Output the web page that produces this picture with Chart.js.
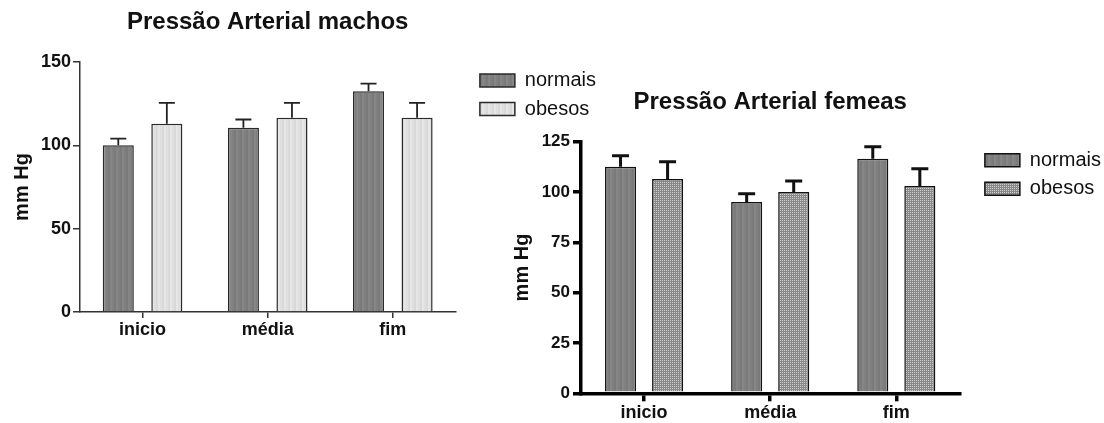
<!DOCTYPE html>
<html><head><meta charset="utf-8">
<script src="https://cdn.jsdelivr.net/npm/chart.js@4.4.1/dist/chart.umd.min.js"></script>
<style>
html,body{margin:0;padding:0;background:#fff;width:1104px;height:423px;overflow:hidden}
.wrap{position:absolute;top:0;height:423px}
#w1{left:0;width:600px}
#w2{left:500px;width:604px}
</style></head><body>
<div class="wrap" id="w1"><canvas id="c1"></canvas></div>
<div class="wrap" id="w2"><canvas id="c2"></canvas></div>
<script>
// ---- data ----
const categories = ['inicio', 'média', 'fim'];
const seriesNames = ['normais', 'obesos'];
const machosNormais = [100, 110.5, 132.5];
const machosNormaisErr = [4, 5, 4.5];
const machosObesos = [113, 116.5, 116.5];
const machosObesosErr = [12.5, 9, 9];
const femeasNormais = [112.5, 95, 116.5];
const femeasNormaisErr = [5.5, 4.2, 6];
const femeasObesos = [106.5, 100, 103];
const femeasObesosErr = [8.5, 5.5, 8.5];
const machosTicks = [0, 50, 100, 150];
const femeasTicks = [0, 25, 50, 75, 100, 125];
const titleMachos = 'Pressão Arterial machos';
const titleFemeas = 'Pressão Arterial femeas';
const yTitle = 'mm Hg';

const FF = "'Liberation Sans', Arial, Helvetica, sans-serif";

function makePattern(w, h, draw) {
  const c = document.createElement('canvas');
  c.width = w; c.height = h;
  const g = c.getContext('2d');
  draw(g);
  return g.createPattern(c, 'repeat');
}
function stripes(cols) {
  return makePattern(cols.length, 4, g => {
    cols.forEach((col, i) => { g.fillStyle = col; g.fillRect(i, 0, 1, 4); });
  });
}
const stripeDark = stripes(['#7a7a7a','#7a7a7a','#868686','#868686','#7f7f7f','#808080']);
const stripeLight = stripes(['#d9d9d9','#d9d9d9','#e6e6e6','#e6e6e6','#dedede','#e0e0e0']);
const meshPattern = makePattern(2, 2, g => {
  g.fillStyle = '#888888'; g.fillRect(0, 0, 2, 2);
  g.fillStyle = '#cfcfcf'; g.fillRect(0, 0, 1, 1);
});

function errorBarPlugin(errs, lw, half, color) {
  return {
    id: 'errorBars',
    afterDatasetsDraw(chart) {
      const ctx = chart.ctx;
      const y = chart.scales.y;
      ctx.save();
      ctx.strokeStyle = color;
      ctx.lineWidth = lw;
      chart.data.datasets.forEach((ds, di) => {
        const meta = chart.getDatasetMeta(di);
        meta.data.forEach((bar, i) => {
          const top = y.getPixelForValue(ds.data[i] + errs[di][i]);
          ctx.beginPath();
          ctx.moveTo(bar.x, bar.y);
          ctx.lineTo(bar.x, top);
          ctx.moveTo(bar.x - half, top);
          ctx.lineTo(bar.x + half, top);
          ctx.stroke();
        });
      });
      ctx.restore();
    }
  };
}
function shiftLegend(dx) {
  return {
    id: 'shiftLegend',
    afterLayout(chart) {
      const l = chart.legend;
      if (l) { l.left += dx; l.right += dx; }
    }
  };
}

function makeChart(el, o) {
  return new Chart(el, {
    type: 'bar',
    data: {
      labels: categories,
      datasets: [
        { label: seriesNames[0], data: o.normais, backgroundColor: o.fill0, borderColor: o.edge, borderWidth: o.barBorder },
        { label: seriesNames[1], data: o.obesos, backgroundColor: o.fill1, borderColor: o.edge, borderWidth: o.barBorder }
      ]
    },
    options: {
      responsive: true,
      maintainAspectRatio: false,
      animation: false,
      events: [],
      layout: { padding: { left: 0, right: o.padRight, top: 0, bottom: 0 } },
      datasets: { bar: { categoryPercentage: o.catPct, barPercentage: o.barPct } },
      plugins: {
        title: {
          display: true, text: o.title, fullSize: false, position: 'top', color: '#111',
          font: { family: FF, size: 24, weight: 'bold' },
          padding: { top: o.titleTop, bottom: o.titleBottom }
        },
        legend: {
          display: true, position: 'right', align: 'start', fullSize: false,
          labels: { boxWidth: 35, boxHeight: 13, padding: 8.5, color: '#111', font: { family: FF, size: 20 } }
        },
        tooltip: { enabled: false }
      },
      scales: {
        x: {
          offset: true,
          grid: { display: true, drawOnChartArea: false, drawTicks: true, tickLength: o.xTick, offset: false, color: o.axisColor, lineWidth: o.axisWidth },
          border: { display: true, color: o.axisColor, width: o.axisWidth },
          ticks: { color: '#111', padding: 1, font: { family: FF, size: 18, weight: 'bold' } },
          afterFit: s => { s.height = o.xHeight; }
        },
        y: {
          min: 0, max: o.max,
          afterBuildTicks: s => { s.ticks = o.ticks.map(v => ({ value: v })); },
          grid: { display: true, drawOnChartArea: false, drawTicks: true, tickLength: o.yTick, color: o.axisColor, lineWidth: o.axisWidth },
          border: { display: true, color: o.axisColor, width: o.axisWidth },
          ticks: { color: '#111', padding: o.yPad, font: { family: FF, size: o.yFont, weight: 'bold' } },
          title: { display: true, text: yTitle, color: '#111', font: { family: FF, size: 20, weight: 'bold' }, padding: { top: 10, bottom: 0 } },
          afterFit: s => { s.width = o.yWidth; }
        }
      }
    },
    plugins: [errorBarPlugin(o.errs, o.errWidth, o.capHalf, o.errColor), shiftLegend(o.legendShift)]
  });
}

makeChart(document.getElementById('c1'), {
  normais: machosNormais, obesos: machosObesos,
  errs: [machosNormaisErr, machosObesosErr],
  fill0: stripeDark, fill1: stripeLight, edge: '#2a2a2a', barBorder: 1.5,
  padRight: 10, catPct: 0.776, barPct: 0.64,
  title: titleMachos, titleTop: 7.6, titleBottom: 25.6,
  axisColor: '#333', axisWidth: 1.5, xTick: 6, yTick: 7, yPad: 2, yFont: 18,
  xHeight: 111, yWidth: 80, max: 150, ticks: machosTicks,
  errWidth: 1.8, capHalf: 8, errColor: '#222', legendShift: 16
});

makeChart(document.getElementById('c2'), {
  normais: femeasNormais, obesos: femeasObesos,
  errs: [femeasNormaisErr, femeasObesosErr],
  fill0: stripeDark, fill1: meshPattern, edge: '#111', barBorder: 1.5,
  padRight: 10, catPct: 0.746, barPct: 0.66,
  title: titleFemeas, titleTop: 87.6, titleBottom: 25.3,
  axisColor: '#000', axisWidth: 3.5, xTick: 8, yTick: 8, yPad: 3, yFont: 17,
  xHeight: 29.7, yWidth: 81, max: 125, ticks: femeasTicks,
  errWidth: 3, capHalf: 8.5, errColor: '#111', legendShift: 17
});
</script>
</body></html>
